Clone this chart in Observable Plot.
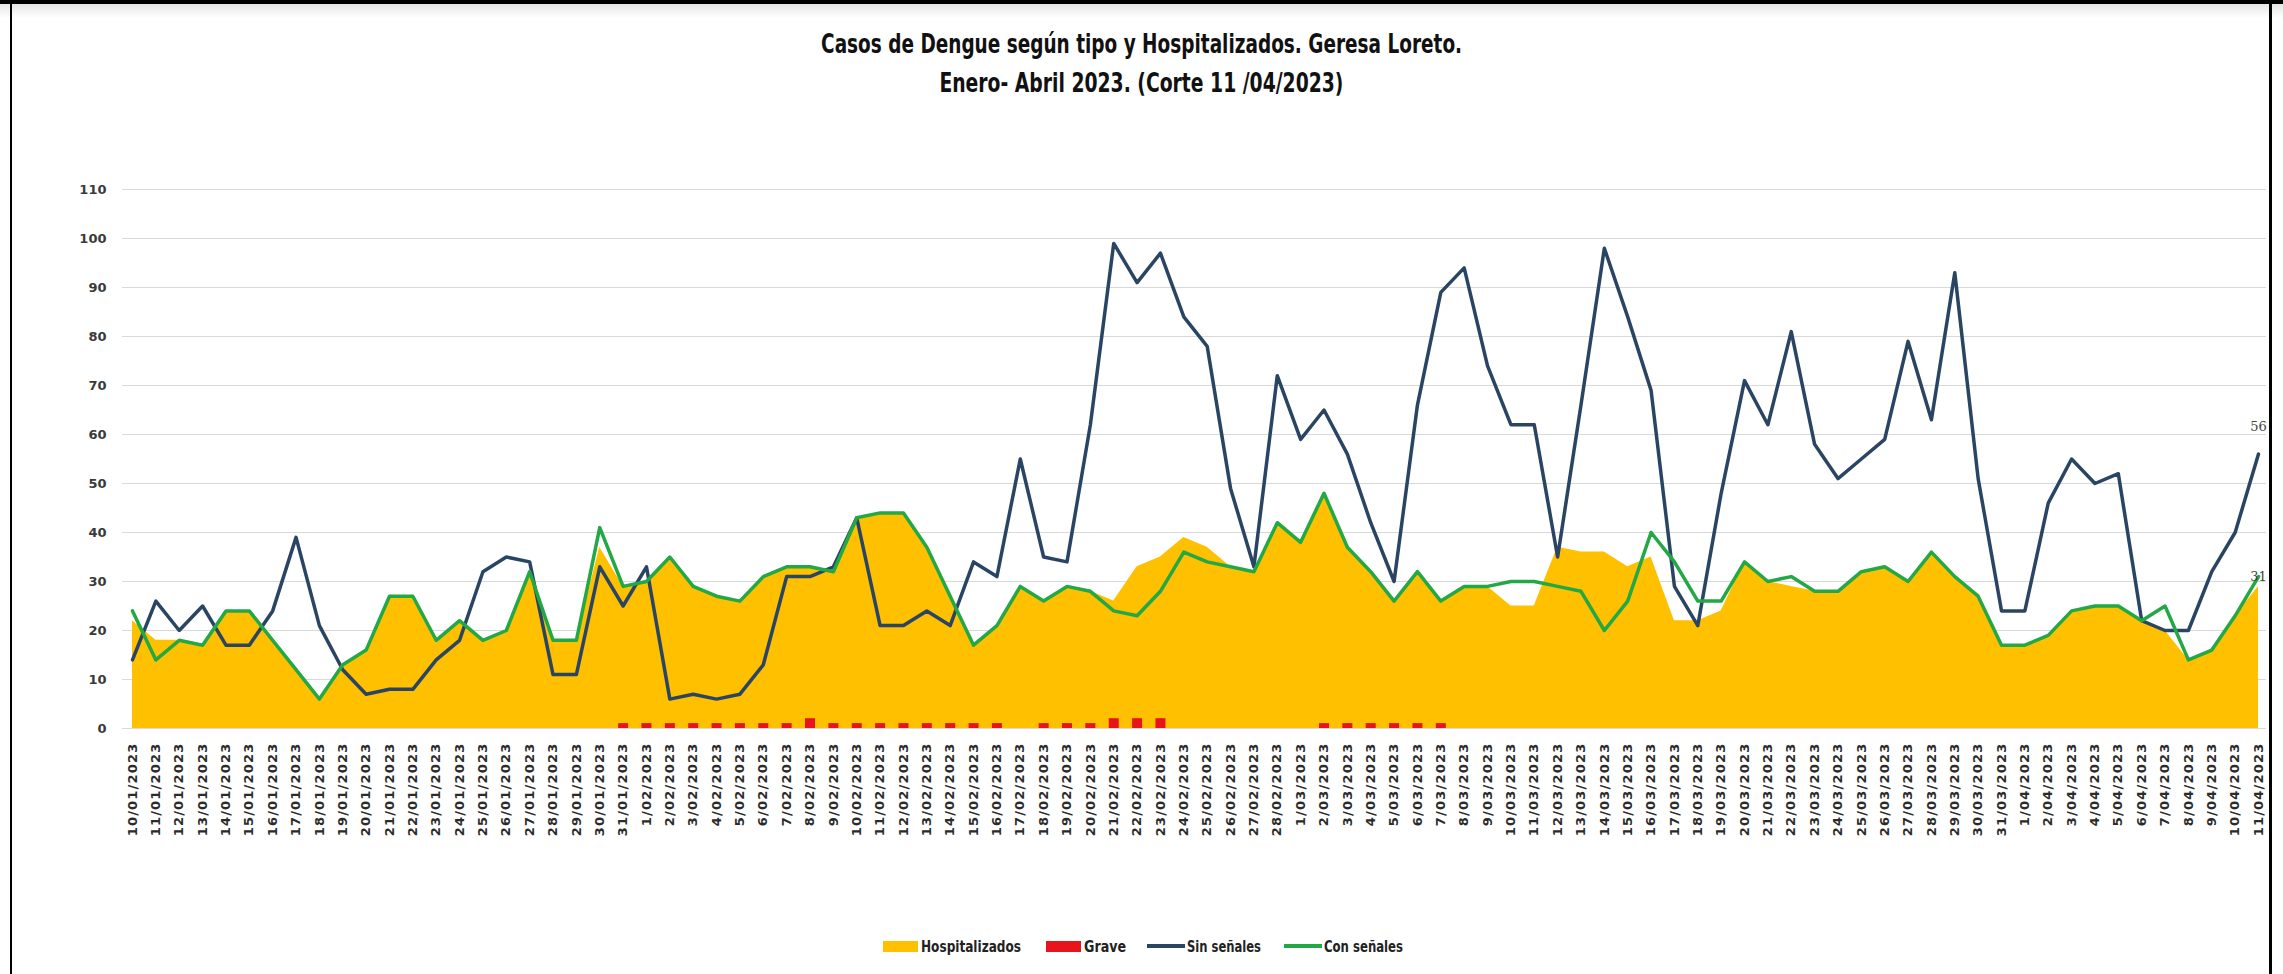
<!DOCTYPE html>
<html>
<head>
<meta charset="utf-8">
<script src="https://cdn.jsdelivr.net/npm/d3@7"></script>
<script src="https://cdn.jsdelivr.net/npm/@observablehq/plot@0.6"></script>
<style>
  body { margin: 0; background: #fff; }
  #frame { position: relative; width: 2283px; height: 974px; overflow: hidden; background: #fff; }
  .bd { position: absolute; background: #000; }
  #topband { position: absolute; left: 0; top: 4px; width: 2283px; height: 14px; background: linear-gradient(#e6e6e6, #fff); }
  #title { height: 110px; box-sizing: border-box; padding-top: 24px; text-align: center;
           font-family: "Liberation Sans Narrow", "DejaVu Sans Condensed", "Roboto Condensed", sans-serif;
           font-weight: bold; font-size: 27px; line-height: 39px; color: #111; }
  #title span { display: inline-block; transform-origin: 50% 50%; white-space: nowrap; }
  #chart { height: 750px; }
  #chart svg { display: block; }
  #chart g[aria-label="x-axis tick label"] text { font-family: "DejaVu Sans", sans-serif; font-weight: bold; font-size: 13px; letter-spacing: 1.2px; fill: #2b2b2b; }
  #chart g[aria-label="y-axis tick label"] text { font-family: "DejaVu Sans", sans-serif; font-weight: bold; font-size: 13px; fill: #3a3a3a; }
  #legend { position: absolute; left: 0; top: 936px; width: 2283px; height: 20px;
            font-family: "Liberation Sans Narrow", "DejaVu Sans Condensed", sans-serif; font-weight: bold; font-size: 16px; color: #222; }
  .item { position: absolute; top: 0; height: 20px; display: flex; align-items: center; }
  .box { width: 35px; height: 11px; margin-right: 3px; flex: none; }
  .ln { width: 38px; height: 4px; margin-right: 2px; flex: none; }
  .item span { display: inline-block; transform-origin: 0 50%; white-space: nowrap; }
</style>
</head>
<body>
<div id="frame">
  <div class="bd" style="left:0;top:0;width:2283px;height:4px"></div>
  <div id="topband"></div>
  <div class="bd" style="left:10px;top:0;width:2px;height:974px"></div>
  <div class="bd" style="left:2269px;top:0;width:3px;height:974px"></div>
  <div id="title">
    <div><span data-w="641">Casos de Dengue según tipo y Hospitalizados. Geresa Loreto.</span></div>
    <div><span data-w="404">Enero- Abril 2023. (Corte 11 /04/2023)</span></div>
  </div>
  <div id="chart"></div>
  <div id="legend"></div>
</div>
<script>
const fechas = [
  "10/01/2023","11/01/2023","12/01/2023","13/01/2023","14/01/2023","15/01/2023","16/01/2023","17/01/2023","18/01/2023","19/01/2023",
  "20/01/2023","21/01/2023","22/01/2023","23/01/2023","24/01/2023","25/01/2023","26/01/2023","27/01/2023","28/01/2023","29/01/2023",
  "30/01/2023","31/01/2023","1/02/2023","2/02/2023","3/02/2023","4/02/2023","5/02/2023","6/02/2023","7/02/2023","8/02/2023",
  "9/02/2023","10/02/2023","11/02/2023","12/02/2023","13/02/2023","14/02/2023","15/02/2023","16/02/2023","17/02/2023","18/02/2023",
  "19/02/2023","20/02/2023","21/02/2023","22/02/2023","23/02/2023","24/02/2023","25/02/2023","26/02/2023","27/02/2023","28/02/2023",
  "1/03/2023","2/03/2023","3/03/2023","4/03/2023","5/03/2023","6/03/2023","7/03/2023","8/03/2023","9/03/2023","10/03/2023",
  "11/03/2023","12/03/2023","13/03/2023","14/03/2023","15/03/2023","16/03/2023","17/03/2023","18/03/2023","19/03/2023","20/03/2023",
  "21/03/2023","22/03/2023","23/03/2023","24/03/2023","25/03/2023","26/03/2023","27/03/2023","28/03/2023","29/03/2023","30/03/2023",
  "31/03/2023","1/04/2023","2/04/2023","3/04/2023","4/04/2023","5/04/2023","6/04/2023","7/04/2023","8/04/2023","9/04/2023",
  "10/04/2023","11/04/2023"
];

const hospitalizados = [
  22,18,18,17,24,24,18,12,6,13,
  16,27,27,18,22,18,20,32,18,18,
  37,29,30,35,29,27,26,31,33,33,
  32,43,44,44,37,27,17,21,29,26,
  29,28,26,33,35,39,37,33,32,42,
  38,48,37,32,26,32,26,29,29,25,
  25,37,36,36,33,35,22,22,24,34,
  30,29,28,28,32,33,30,36,31,27,
  17,17,19,24,25,25,22,20,14,16,
  23,29
];

const grave = [
  0,0,0,0,0,0,0,0,0,0,
  0,0,0,0,0,0,0,0,0,0,
  0,1,1,1,1,1,1,1,1,2,
  1,1,1,1,1,1,1,1,0,1,
  1,1,2,2,2,0,0,0,0,0,
  0,1,1,1,1,1,1,0,0,0,
  0,0,0,0,0,0,0,0,0,0,
  0,0,0,0,0,0,0,0,0,0,
  0,0,0,0,0,0,0,0,0,0,
  0,0
];

const sinSenales = [
  14,26,20,25,17,17,24,39,21,12,
  7,8,8,14,18,32,35,34,11,11,
  33,25,33,6,7,6,7,13,31,31,
  33,43,21,21,24,21,34,31,55,35,
  34,62,99,91,97,84,78,49,33,72,
  59,65,56,42,30,66,89,94,74,62,
  62,35,66,98,84,69,29,21,48,71,
  62,81,58,51,55,59,79,63,93,51,
  24,24,46,55,50,52,22,20,20,32,
  40,56
];

const conSenales = [
  24,14,18,17,24,24,18,12,6,13,
  16,27,27,18,22,18,20,32,18,18,
  41,29,30,35,29,27,26,31,33,33,
  32,43,44,44,37,27,17,21,29,26,
  29,28,24,23,28,36,34,33,32,42,
  38,48,37,32,26,32,26,29,29,30,
  30,29,28,20,26,40,34,26,26,34,
  30,31,28,28,32,33,30,36,31,27,
  17,17,19,24,25,25,22,25,14,16,
  23,31
];

const yTicks = [0,10,20,30,40,50,60,70,80,90,100,110];

const seriesNames = ["Hospitalizados","Grave","Sin señales","Con señales"];
const seriesColors = ["#FFC000","#E8141B","#2A4563","#22A845"];

const data = fechas.map((f, i) => ({
  fecha: f,
  hosp: hospitalizados[i],
  grave: grave[i],
  sin: sinSenales[i],
  con: conSenales[i]
}));
const last = data.slice(-1);

const chart = Plot.plot({
  width: 2283,
  height: 750,
  marginLeft: 122,
  marginRight: 17,
  marginTop: 79,
  marginBottom: 132,
  style: { background: "transparent", fontFamily: "DejaVu Sans, sans-serif" },
  x: { type: "point", domain: fechas, padding: 0, insetLeft: 10, insetRight: 8, label: null,
       tickRotate: -90, tickSize: 0, tickPadding: 14 },
  y: { domain: [0, 110], ticks: yTicks, label: null, tickSize: 0, tickPadding: 16 },
  marks: [
    Plot.ruleY(yTicks, { stroke: "#d9d9d9", strokeWidth: 1.2 }),
    Plot.areaY(data, { x: "fecha", y: "hosp", fill: seriesColors[0] }),
    Plot.ruleX(data.filter(d => d.grave > 0), { x: "fecha", y1: 0, y2: "grave", stroke: seriesColors[1], strokeWidth: 10 }),
    Plot.lineY(data, { x: "fecha", y: "sin", stroke: seriesColors[2], strokeWidth: 3.5 }),
    Plot.lineY(data, { x: "fecha", y: "con", stroke: seriesColors[3], strokeWidth: 3.5 }),
    Plot.text(last, { x: "fecha", y: "sin", text: d => String(d.sin), dx: 0, dy: -27,
                      fontSize: 13, fill: "#444", fontFamily: "DejaVu Serif, serif" }),
    Plot.text(last, { x: "fecha", y: "con", text: d => String(d.con), dx: 0, dy: 0,
                      fontSize: 13, fill: "#444", fontFamily: "DejaVu Serif, serif" })
  ]
});
document.getElementById("chart").appendChild(chart);

// legend: item left positions and text widths as measured on the reference
const legendLeft = [883, 1046, 1147, 1284];
const legendTextW = [100, 42, 74, 79];
const legend = document.getElementById("legend");
seriesNames.forEach((name, i) => {
  const item = document.createElement("div");
  item.className = "item";
  item.style.left = legendLeft[i] + "px";
  const sw = document.createElement("div");
  sw.className = i < 2 ? "box" : "ln";
  sw.style.background = seriesColors[i];
  const tx = document.createElement("span");
  tx.textContent = name;
  tx.dataset.w = legendTextW[i];
  item.appendChild(sw);
  item.appendChild(tx);
  legend.appendChild(item);
});

// squeeze text horizontally to the reference's narrow face
document.querySelectorAll("[data-w]").forEach(el => {
  const w = el.getBoundingClientRect().width;
  if (w > 0) el.style.transform = `scaleX(${(+el.dataset.w / w).toFixed(4)})`;
});
</script>
</body>
</html>
